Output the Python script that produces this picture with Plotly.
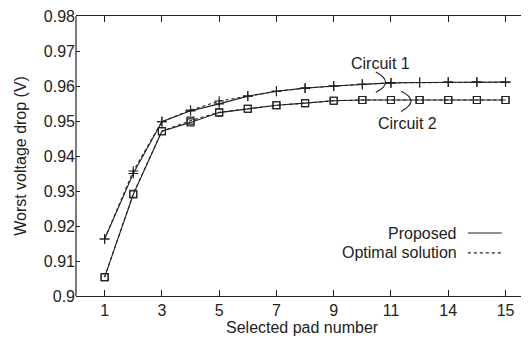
import plotly.graph_objects as go

pads = list(range(1, 16))
tick_vals = [1, 3, 5, 7, 9, 11, 13, 15]
tick_text = ["1", "3", "5", "7", "9", "11", "14", "15"]
y_ticks = [0.9, 0.91, 0.92, 0.93, 0.94, 0.95, 0.96, 0.97, 0.98]
y_text = ["0.9", "0.91", "0.92", "0.93", "0.94", "0.95", "0.96", "0.97", "0.98"]

c1_proposed = [0.9163, 0.9350, 0.9498, 0.9529, 0.9549, 0.9571, 0.9585, 0.9594,
               0.9600, 0.9605, 0.9609, 0.9610, 0.9611, 0.9611, 0.9611]
c1_optimal = [0.9163, 0.9357, 0.9498, 0.9531, 0.9557, 0.9571, 0.9585, 0.9594,
              0.9600, 0.9605, 0.9609, 0.9610, 0.9611, 0.9611, 0.9611]
c2_proposed = [0.9054, 0.9290, 0.9471, 0.9496, 0.9524, 0.9535, 0.9545, 0.9551,
               0.9558, 0.9560, 0.9560, 0.9560, 0.9560, 0.9560, 0.9560]
c2_optimal = [0.9054, 0.9292, 0.9471, 0.9501, 0.9525, 0.9535, 0.9545, 0.9551,
              0.9558, 0.9560, 0.9560, 0.9560, 0.9560, 0.9560, 0.9560]

FONT = "Liberation Sans"
INK = "#222222"
FS = 16

fig = go.Figure()

def add(y, dash, symbol, size, name):
    fig.add_trace(go.Scatter(
        x=pads, y=y, mode="lines+markers", name=name, showlegend=False,
        line=dict(color=INK, width=1.1, dash=dash),
        marker=dict(symbol=symbol, size=size, color=INK,
                    line=dict(color=INK, width=1.1)),
    ))

add(c1_optimal, "dot", "cross-thin", 7, "Circuit 1 optimal")
add(c2_optimal, "dot", "square-open", 7, "Circuit 2 optimal")
add(c1_proposed, "solid", "cross-thin", 7, "Circuit 1 proposed")
add(c2_proposed, "solid", "square-open", 7, "Circuit 2 proposed")

shapes = [
    dict(type="line", xref="paper", yref="paper", x0=0, x1=0, y0=0, y1=1,
         line=dict(color=INK, width=1.2)),
    dict(type="line", xref="paper", yref="paper", x0=0.865, x1=0.940,
         y0=0.225, y1=0.225, line=dict(color=INK, width=1.1)),
    dict(type="line", xref="paper", yref="paper", x0=0.865, x1=0.940,
         y0=0.154, y1=0.154, line=dict(color=INK, width=1.1, dash="dot")),
    dict(type="path", xref="x", yref="y",
         path="M 10.47,0.9640 Q 11.15,0.9611 10.47,0.9582",
         line=dict(color=INK, width=1.1)),
    dict(type="path", xref="x", yref="y",
         path="M 11.35,0.9585 Q 12.05,0.9558 11.35,0.9527",
         line=dict(color=INK, width=1.1)),
]

def txt(s, x, y, xref="paper", yref="paper", xanchor="center"):
    return dict(text=s, xref=xref, yref=yref, x=x, y=y, xanchor=xanchor,
                yanchor="middle", showarrow=False,
                font=dict(family=FONT, size=FS, color=INK))

annotations = [
    txt("Proposed", 0.845, 0.225, xanchor="right"),
    txt("Optimal solution", 0.845, 0.154, xanchor="right"),
    txt("Circuit 1", 10.65, 0.9664, "x", "y"),
    txt("Circuit 2", 11.56, 0.9494, "x", "y"),
    txt("Selected pad number", 0.5, -0.111),
    dict(text="Worst voltage drop (V)", xref="paper", yref="paper",
         x=-0.124, y=0.5, xanchor="center", yanchor="middle", showarrow=False,
         textangle=-90, font=dict(family=FONT, size=FS, color=INK)),
]

# page body has an 8px default margin, so the figure is 8px smaller
fig.update_layout(
    width=521, height=334,
    margin=dict(l=68, r=0, t=8, b=46),
    paper_bgcolor="white", plot_bgcolor="white",
    font=dict(family=FONT, size=FS, color=INK),
    shapes=shapes, annotations=annotations,
    xaxis=dict(
        range=[0, 15.82], tickvals=tick_vals, ticktext=tick_text,
        showgrid=False, zeroline=False, showline=True, linecolor=INK, linewidth=1.2,
        mirror="ticks", ticks="inside", ticklen=6, tickcolor=INK, tickwidth=1,
        automargin=False, ticklabeloverflow="allow",
        tickfont=dict(family=FONT, size=FS, color=INK),
    ),
    yaxis=dict(
        range=[0.9, 0.98], tickvals=y_ticks, ticktext=y_text,
        showgrid=False, zeroline=False, showline=False,
        mirror="ticks", ticks="inside", ticklen=4, tickcolor=INK, tickwidth=1,
        automargin=False, ticklabeloverflow="allow",
        tickfont=dict(family=FONT, size=FS, color=INK),
    ),
)

fig.write_html("out.html")
